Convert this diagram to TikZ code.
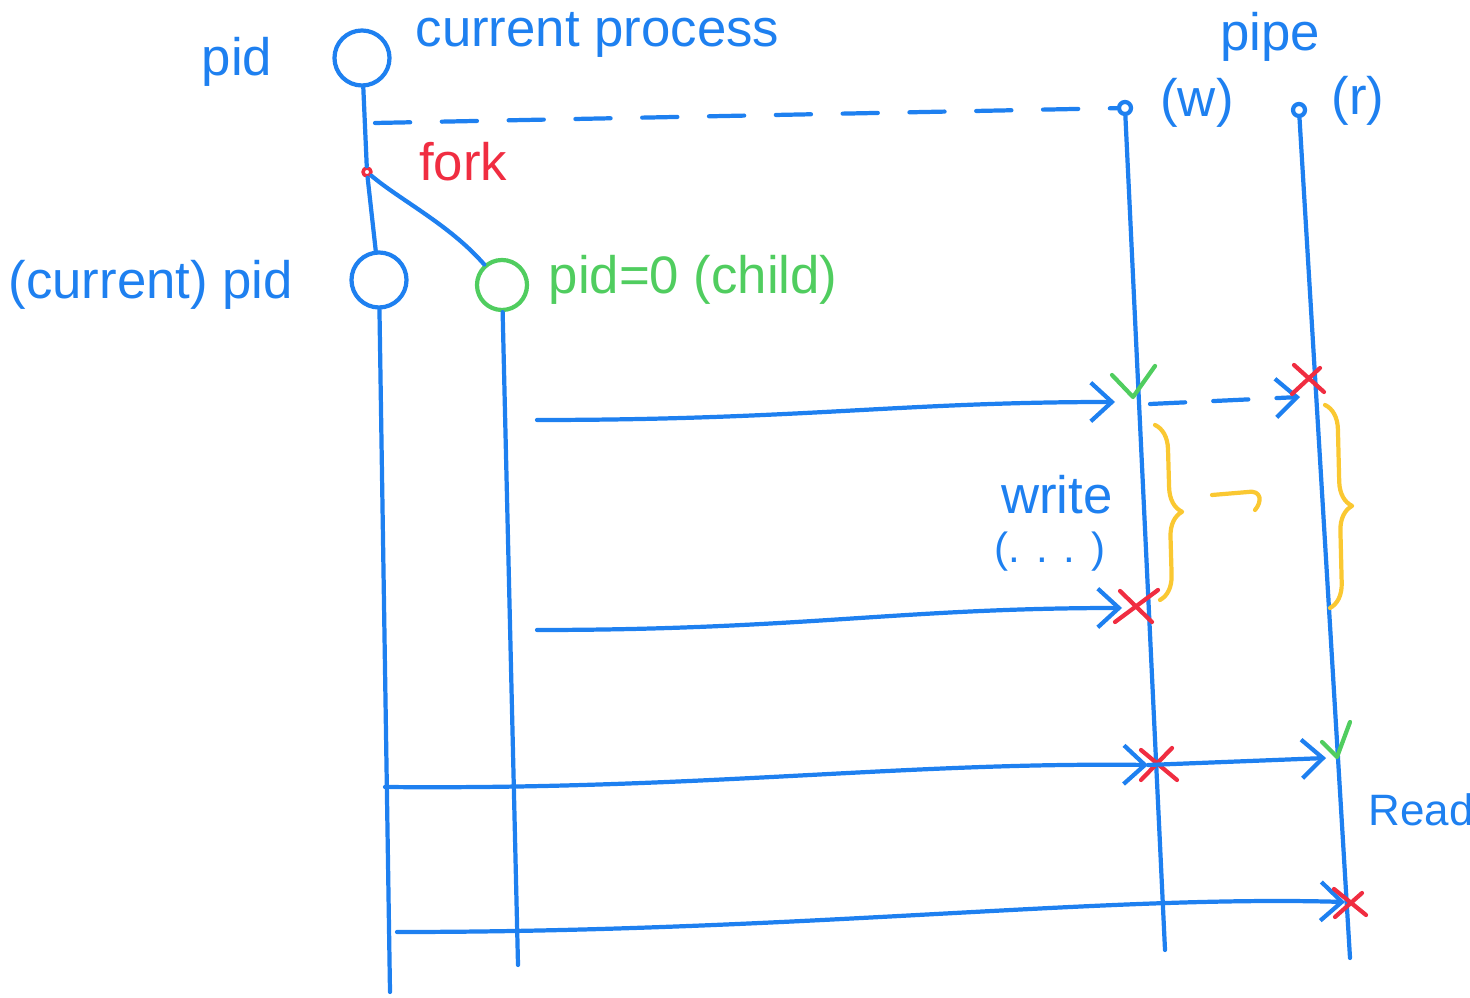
\documentclass[tikz,border=0pt]{standalone}
\usepackage{fontspec}
\setmainfont{Liberation Sans}
\usetikzlibrary{arrows.meta,decorations.pathreplacing}
\definecolor{penblue}{RGB}{30,128,240}
\definecolor{pengreen}{RGB}{80,205,95}
\definecolor{penred}{RGB}{240,45,65}
\definecolor{penyellow}{RGB}{250,200,50}
\begin{document}
\begin{tikzpicture}[x=0.01cm,y=-0.01cm,line cap=round,line join=round]
    \tikzstyle{pen} = [line width=1.2pt, draw=penblue]
    \tikzstyle{arrow} = [pen, ->, >={Straight Barb[length=6pt,width=11pt]}]
    \tikzstyle{darrow} = [arrow, dash pattern=on 10pt off 8pt]
    \tikzstyle{proc} = [circle, line width=1.2pt, minimum size=1.45cm, inner sep=0pt]
    \tikzstyle{dot} = [circle, line width=1.2pt, draw=penblue, minimum size=0.12cm, inner sep=0pt]
    \tikzstyle{txt} = [font=\fontsize{15}{18}\selectfont, inner sep=0pt]
    \tikzstyle{xmark} = [line width=1.2pt, draw=penred]
    \tikzstyle{vmark} = [line width=1.2pt, draw=pengreen]
    \tikzstyle{brace} = [line width=1.2pt, draw=penyellow,
        decorate, decoration={brace, amplitude=7pt}]

    \useasboundingbox (0,0) rectangle (1470,998);

    % processes
    \node(parent) [proc, draw=penblue, minimum size=0.55cm] at (362,58) {};
    \node(current) [proc, draw=penblue, minimum size=0.55cm] at (379,280) {};
    \node(child) [proc, draw=pengreen, minimum size=0.5cm] at (502,285) {};
    \node(forkpt) [circle, draw=penred, line width=1pt, minimum size=0.08cm,
        inner sep=0pt] at (367,172) {};

    \node(pidtop) [txt, text=penblue] at (237,62) {pid};
    \node(curproc) [txt, text=penblue, anchor=west] at (415,35) {current process};
    \node(curpid) [txt, text=penblue, anchor=west] at (8,285) {(current) pid};
    \node(childpid) [txt, text=pengreen, anchor=west] at (548,280) {pid=0 (child)};
    \node(forklbl) [txt, text=penred] at (463,162) {fork};

    % pipe ends
    \node(wend) [dot] at (1125,108) {};
    \node(rend) [dot] at (1299,110) {};
    \node(pipe) [txt, text=penblue] at (1270,37) {pipe};
    \node(wlbl) [txt, text=penblue] at (1197,103) {(w)};
    \node(rlbl) [txt, text=penblue] at (1358,101) {(r)};

    \coordinate (wbot) at (1165,950);
    \coordinate (rbot) at (1350,958);
    \coordinate (parbot) at (390,992);
    \coordinate (chbot) at (518,965);
    \coordinate (parstart) at (375,123);

    % lifelines
    \draw[pen] (parent) -- (forkpt) -- (current);
    \draw[pen] (forkpt) .. controls (400,200) and (450,225) .. (child);
    \draw[pen] (current) -- (parbot);
    \draw[pen] (child) -- (chbot);
    \draw[pen] (wend) -- (wbot);
    \draw[pen] (rend) -- (rbot);
    \draw[pen, dash pattern=on 10pt off 9pt] (parstart) -- (wend);

    % first write: ok
    \coordinate (a1s) at (537,420);
    \coordinate (a1e) at (1115,402);
    \draw[arrow] (a1s) .. controls (800,420) and (900,402) .. (a1e);
    \draw[vmark] (1112,375) -- (1133,397) -- (1155,366);
    \coordinate (d1s) at (1150,404);
    \coordinate (d1e) at (1300,397);
    \draw[darrow] (d1s) -- (d1e);
    \draw[xmark] (1294,365) -- (1324,392);
    \draw[xmark] (1320,368) -- (1292,394);

    % write blocks
    \draw[brace] (1155,425) -- (1160,600);
    \draw[brace] (1325,405) -- (1330,608);
    \draw[draw=penyellow, line width=1.2pt] (1212,495) -- (1248,492)
        .. controls (1262,490) and (1262,502) .. (1255,510);
    \node(writelbl) [txt, text=penblue] at (1057,495) {write};
    \node(dotslbl) [txt, text=penblue, font=\fontsize{12}{14}\selectfont]
        at (1050,552) {(. . . )};

    % second write: blocked
    \coordinate (a2s) at (537,630);
    \coordinate (a2e) at (1122,608);
    \draw[arrow] (a2s) .. controls (800,630) and (900,608) .. (a2e);
    \draw[xmark] (1120,591) -- (1152,622);
    \draw[xmark] (1158,590) -- (1115,622);

    % parent writes, child reads
    \coordinate (a3s) at (385,787);
    \coordinate (a3m) at (1148,765);
    \coordinate (a3e) at (1326,758);
    \draw[arrow] (a3s) .. controls (700,790) and (900,762) .. (a3m);
    \draw[xmark] (1141,750) -- (1177,780);
    \draw[xmark] (1172,748) -- (1141,780);
    \draw[arrow] (a3m) -- (a3e);
    \draw[vmark] (1322,742) -- (1337,757) -- (1350,722);
    \node(readlbl) [txt, text=penblue, anchor=west,
        font=\fontsize{12.5}{15}\selectfont] at (1368,810) {Read};

    % last read: blocked
    \coordinate (a4s) at (397,932);
    \coordinate (a4e) at (1345,902);
    \draw[arrow] (a4s) .. controls (800,932) and (1100,895) .. (a4e);
    \draw[xmark] (1334,889) -- (1366,915);
    \draw[xmark] (1362,893) -- (1335,917);
\end{tikzpicture}
\end{document}
